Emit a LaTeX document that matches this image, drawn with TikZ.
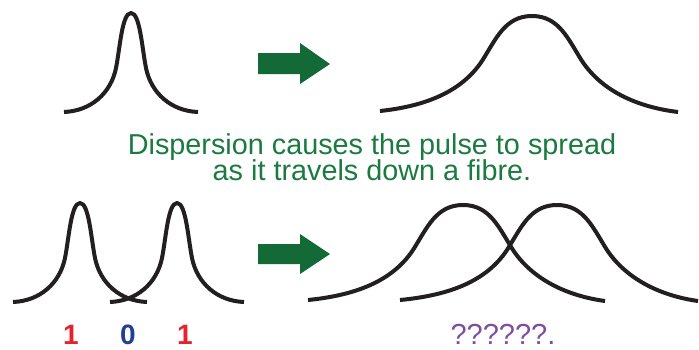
\documentclass[tikz,border=0pt]{standalone}
\usepackage{fontspec}
\setmainfont{Liberation Sans}
\definecolor{arrgreen}{HTML}{136A37}
\definecolor{txtgreen}{HTML}{1B7A40}
\definecolor{bitred}{HTML}{E8222B}
\definecolor{bitblue}{HTML}{233F94}
\definecolor{qpurple}{HTML}{7B4EA2}
\definecolor{pulsegray}{HTML}{231F20}
\tikzset{
  pulse/.style={draw=pulsegray, line width=4pt, line join=round},
  bigarrow/.style={fill=arrgreen, draw=none},
  caption/.style={text=txtgreen, font=\fontsize{28.8}{29}\selectfont, inner sep=0pt, anchor=base},
  bitlabel/.style={font=\fontsize{28}{29}\selectfont\bfseries, inner sep=0pt, anchor=base},
  qlabel/.style={text=qpurple, font=\fontsize{29}{30}\selectfont, inner sep=0pt, anchor=base}
}
% narrow pulse, peak at origin, y grows downwards
\newcommand{\narrowpulse}[1]{%
  \draw[pulse,shift={#1}] (-67,99) .. controls (-40,98) and (-20,80) .. (-15,55)
     .. controls (-11,35) and (-9,0) .. (0,0)
     .. controls (9,0) and (11,35) .. (15,55)
     .. controls (20,80) and (40,98) .. (67,99);}
% broad pulse, peak at origin
\newcommand{\broadpulse}[3]{%
  \draw[pulse,shift={#1}] (-#2,95) .. controls (-105,90) and (-70,75) .. (-50,45)
     .. controls (-36,23) and (-27,0) .. (0,0)
     .. controls (27,0) and (36,23) .. (50,45)
     .. controls (70,75) and (105,91) .. (#3,96);}
\begin{document}
\begin{tikzpicture}[x=1pt,y=-1pt]
\useasboundingbox (0,0) rectangle (699,349);
% top pulses
\narrowpulse{(131,13)}
\broadpulse{(532,16)}{152}{146}
% arrows
\fill[bigarrow] (258,53) -- (300,53) -- (300,43) -- (330,64) -- (300,84) -- (300,74) -- (258,74) -- cycle;
\fill[bigarrow] (258,244) -- (300,244) -- (300,234) -- (330,254) -- (300,274) -- (300,264) -- (258,264) -- cycle;
% caption
\node[caption] (cap1) at (372,154) {Dispersion causes the pulse to spread};
\node[caption] (cap2) at (372,180) {as it travels down a fibre.};
% bottom left pulses
\narrowpulse{(80,203)}
\narrowpulse{(177,203)}
% bottom right pulses
\broadpulse{(463,205)}{155}{142}
\broadpulse{(557,205)}{157}{141}
% labels
\node[bitlabel, text=bitred] (b1) at (71,344) {1};
\node[bitlabel, text=bitblue] (b0) at (128,344) {0};
\node[bitlabel, text=bitred] (b2) at (185,344) {1};
\node[qlabel] (q) at (503,344) {??????.};
\end{tikzpicture}
\end{document}
